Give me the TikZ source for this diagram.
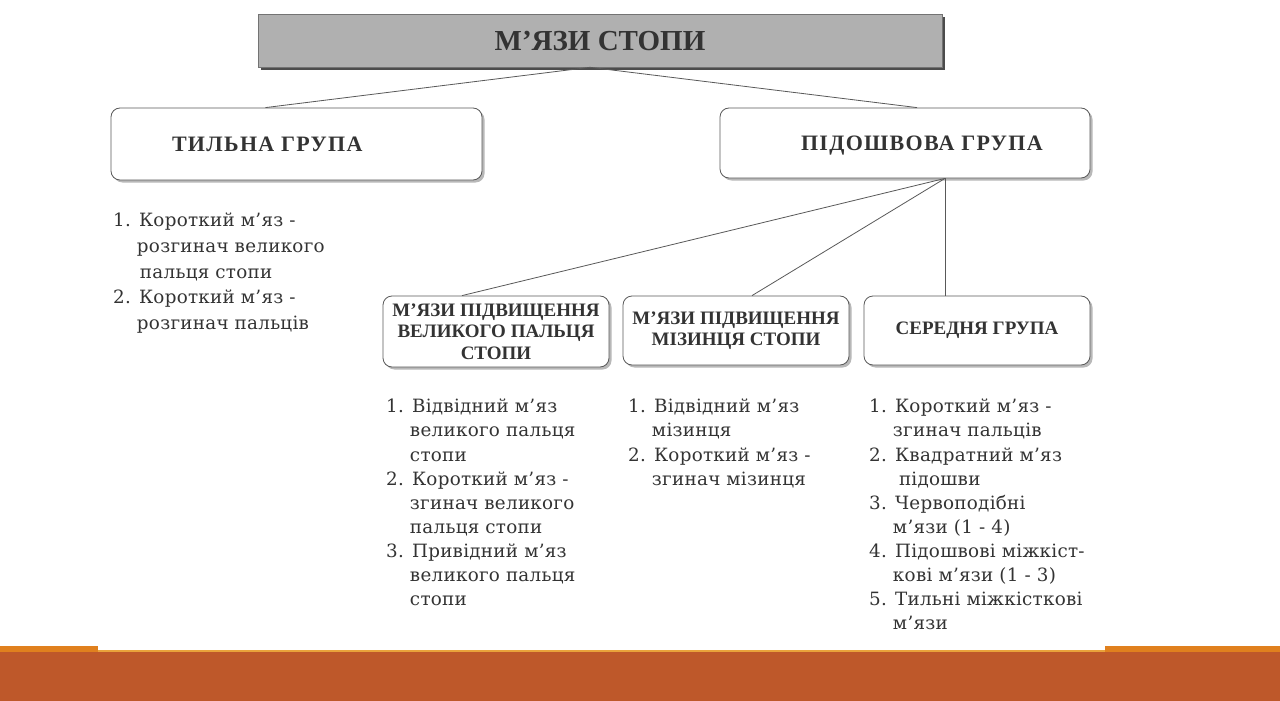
\documentclass[tikz,border=0pt]{standalone}
\usepackage{fontspec}
\setmainfont[LetterSpace=1.5]{DejaVu Serif}
\newfontfamily\hdfont[LetterSpace=6]{Liberation Serif}
\newfontfamily\bxfont{Liberation Serif}
\usetikzlibrary{shadows}
\definecolor{txt}{HTML}{333333}
\definecolor{barmain}{HTML}{BE582A}
\definecolor{barlight}{HTML}{E0801E}
\definecolor{barline}{HTML}{E9A23B}
\definecolor{titlefill}{HTML}{B0B0B0}
\newcommand\ii{\hspace*{1.3em}}
\begin{document}
\begin{tikzpicture}[x=1pt,y=-1pt,
  box/.style={draw=black!65, line width=0.8pt, rounded corners=9pt, fill=white,
    drop shadow={shadow xshift=2.5pt, shadow yshift=-2.5pt, fill=black!28, opacity=1},
    inner sep=0pt, text=txt},
  titlebox/.style={draw=black!55, line width=0.6pt, fill=titlefill,
    drop shadow={shadow xshift=3pt, shadow yshift=-3pt, fill=black!70, opacity=1},
    inner sep=0pt, text=txt},
  grp/.style={box, text height=15pt, text depth=0pt,
    font=\hdfont\bfseries\fontsize{22}{24}\selectfont},
  conn/.style={draw=black!65, line width=0.8pt},
  sub/.style={box, align=center, font=\bxfont\bfseries\fontsize{19}{21.5}\selectfont},
  list/.style={anchor=north west, align=left, inner sep=0pt, text=txt,
    font=\fontsize{18.3}{24.1}\selectfont},
]
\useasboundingbox (0,0) rectangle (1280,701);
\fill[white] (0,0) rectangle (1280,701);
% bottom bar
\fill[barlight] (0,646) rectangle (1280,652);
\fill[white] (98,640) rectangle (1105,650);
\fill[barline] (98,650) rectangle (1105,652);
\fill[barmain] (0,652) rectangle (1280,701);

% title
\node[titlebox, minimum width=684, minimum height=53,
      font=\bxfont\bfseries\fontsize{29}{30}\selectfont] (title) at (600,40.5) {М’ЯЗИ СТОПИ};

% groups
\node[grp, minimum height=72] (tyl) at (296.5,144)
  {\makebox[371pt][l]{\hspace{61pt}ТИЛЬНА ГРУПА}};
\node[grp, minimum height=70] (pod) at (905,143)
  {\makebox[370pt][l]{\hspace{81pt}ПІДОШВОВА ГРУПА}};

% subgroups
\node[sub, minimum width=226, minimum height=71] (b3) at (496,331.5)
  {М’ЯЗИ ПІДВИЩЕННЯ\\ВЕЛИКОГО ПАЛЬЦЯ\\СТОПИ};
\node[sub, minimum width=226, minimum height=69] (b4) at (736,330.5)
  {М’ЯЗИ ПІДВИЩЕННЯ\\МІЗИНЦЯ СТОПИ};
\node[sub, minimum width=226, minimum height=69] (b5) at (977,330.5)
  {СЕРЕДНЯ ГРУПА};

% connectors
\draw[conn] ([xshift=-10pt]title.south) -- ([xshift=-31pt]tyl.north);
\draw[conn] ([xshift=-10pt]title.south) -- ([xshift=12pt]pod.north);
\draw[conn] ([xshift=40pt]pod.south) -- ([xshift=-34pt]b3.north);
\draw[conn] ([xshift=40pt]pod.south) -- ([xshift=16pt]b4.north);
\draw[conn] ([xshift=40pt]pod.south) -- ([xshift=-32pt]b5.north);

% lists
\node[list, font=\fontsize{18.3}{25.7}\selectfont] (l1) at (113,213) {%
1. Короткий м’яз -\\
\ii розгинач великого\\
\ii\hspace*{3pt}пальця стопи\\
2. Короткий м’яз -\\
\ii розгинач пальців};

\node[list] (l3) at (386,399) {%
1. Відвідний м’яз\\
\ii великого пальця\\
\ii стопи\\
2. Короткий м’яз -\\
\ii згинач великого\\
\ii пальця стопи\\
3. Привідний м’яз\\
\ii великого пальця\\
\ii стопи};

\node[list] (l4) at (628,399) {%
1. Відвідний м’яз\\
\ii мізинця\\
2. Короткий м’яз -\\
\ii згинач мізинця};

\node[list] (l5) at (869,399) {%
1. Короткий м’яз -\\
\ii згинач пальців\\
2. Квадратний м’яз\\
\ii\hspace*{6pt}підошви\\
3. Червоподібні\\
\ii м’язи (1 - 4)\\
4. Підошвові міжкіст-\\
\ii кові м’язи (1 - 3)\\
5. Тильні міжкісткові\\
\ii м’язи};
\end{tikzpicture}
\end{document}
